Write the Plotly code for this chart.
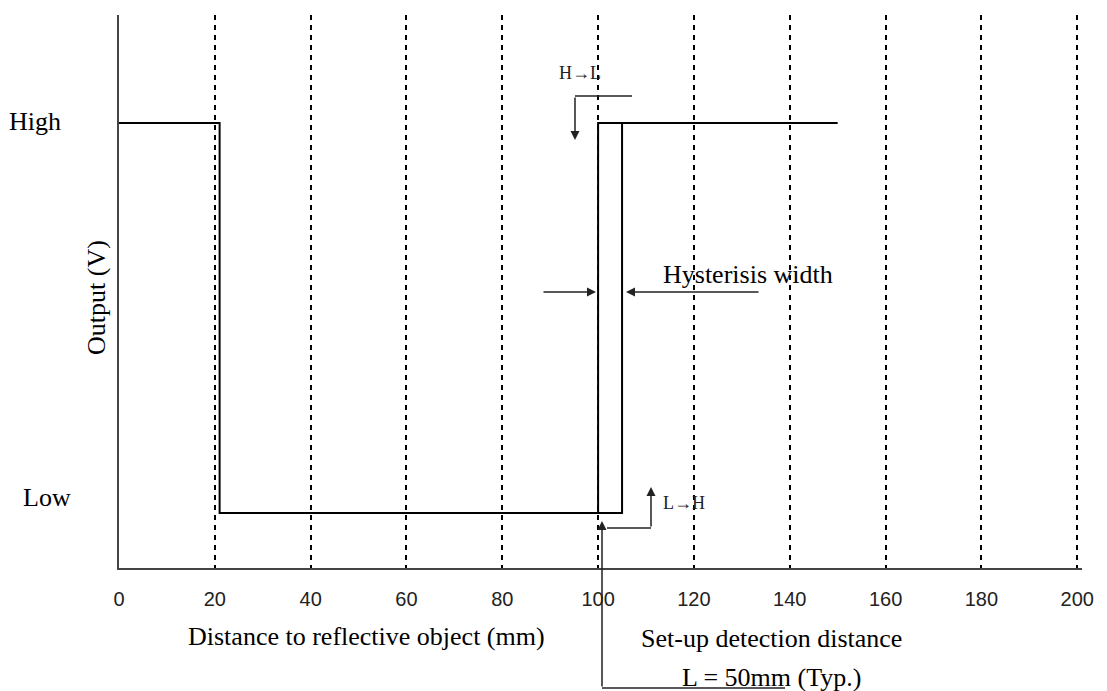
import plotly.graph_objects as go

# ---- data ----
distance_ticks = [0, 20, 40, 60, 80, 100, 120, 140, 160, 180, 200]
tick_labels = ["0", "20", "40", "60", "80", "100", "120", "140", "160", "180", "200"]
level_value = {"Low": 0.0, "High": 1.0}

# output while the object distance changes (H->L branch and L->H branch)
curve_a_x = [0, 21, 21, 105, 105]
curve_a_state = ["High", "High", "Low", "Low", "High"]
curve_b_x = [100, 100, 150]
curve_b_state = ["Low", "High", "High"]

# ---- geometry helpers (layout only); page coords, body margin of 8px ----
OFF = 8
W, H = 1107 - OFF, 691 - OFF
PLOT_L, PLOT_R, PLOT_T, PLOT_B = 119, 1082, 15, 568   # page pixel coords of plot area
L_M, R_M = PLOT_L - OFF, (OFF + W) - PLOT_R
T_M, B_M = PLOT_T - OFF, (OFF + H) - PLOT_B
PW, PH = PLOT_R - PLOT_L, PLOT_B - PLOT_T
X_MAX = 201.0
Y_MIN, Y_MAX = -0.141, 1.277


def px(xp):
    return (xp - PLOT_L) / PW


def py(yp):
    return (PLOT_B - yp) / PH


def dx(xp):
    return px(xp) * X_MAX


def dy(yp):
    return Y_MIN + py(yp) * (Y_MAX - Y_MIN)


SERIF = "Liberation Serif, Times New Roman, serif"

fig = go.Figure()
line_style = dict(color="black", width=2)
fig.add_trace(go.Scatter(x=curve_a_x, y=[level_value[s] for s in curve_a_state],
                         mode="lines", line=line_style, showlegend=False, hoverinfo="skip"))
fig.add_trace(go.Scatter(x=curve_b_x, y=[level_value[s] for s in curve_b_state],
                         mode="lines", line=line_style, showlegend=False, hoverinfo="skip"))


def label(xp, yp, text, size=26, color="black", angle=0):
    return dict(x=px(xp), y=py(yp), xref="paper", yref="paper", text=text, showarrow=False,
                xanchor="center", yanchor="middle", textangle=angle,
                font=dict(family=SERIF, size=size, color=color))


ann = [
    label(35, 121, "High"),
    label(47, 497, "Low"),
    label(97, 298, "Output (V)", angle=-90),
    label(366, 636, "Distance to reflective object (mm)"),
    label(771, 638, "Set-up detection distance"),
    label(771, 677, "L = 50mm (Typ.)"),
    label(748, 274, "Hysterisis width"),
    label(580, 73, "H→L", size=18, color="#222"),
    label(684, 503, "L→H", size=18, color="#222"),
]

arrow_style = dict(showarrow=True, arrowhead=2, arrowsize=1.2, arrowwidth=1.5,
                   arrowcolor="#222", text="", xref="x", yref="y")
# hysteresis width arrows
ann.append(dict(x=dx(596), y=dy(292), ax=-54, ay=0, **arrow_style))
ann.append(dict(x=dx(626), y=dy(292), ax=134, ay=0, **arrow_style))
# H->L arrow (down)
ann.append(dict(x=dx(575), y=dy(140), ax=0, ay=-44, **arrow_style))
# L->H arrow (up)
ann.append(dict(x=dx(651), y=dy(487), ax=0, ay=41, **arrow_style))
# set-up distance arrow (up from below)
ann.append(dict(x=dx(602), y=dy(521), ax=0, ay=167, **arrow_style))

shapes = [
    dict(type="line", xref="paper", yref="paper", x0=px(575), x1=px(632), y0=py(96), y1=py(96),
         line=dict(color="#222", width=1.5)),
    dict(type="line", xref="paper", yref="paper", x0=px(607), x1=px(651), y0=py(528), y1=py(528),
         line=dict(color="#222", width=1.5)),
    dict(type="line", xref="paper", yref="paper", x0=px(602), x1=px(785), y0=py(688), y1=py(688),
         line=dict(color="#222", width=1.5)),
]

fig.update_layout(
    width=W, height=H,
    margin=dict(l=L_M, r=R_M, t=T_M, b=B_M),
    paper_bgcolor="white", plot_bgcolor="white",
    showlegend=False,
    annotations=ann, shapes=shapes,
    xaxis=dict(range=[0, X_MAX], tickvals=distance_ticks, ticktext=tick_labels,
               showline=True, linecolor="#444", linewidth=2,
               showgrid=True, gridcolor="black", gridwidth=2, griddash="5px,5px",
               zeroline=False, ticks="outside", ticklen=12, tickcolor="rgba(0,0,0,0)",
               ticklabeloverflow="allow",
               tickfont=dict(family="Liberation Sans, Arial, sans-serif", size=20, color="#222")),
    yaxis=dict(range=[Y_MIN, Y_MAX], showline=True, linecolor="#444", linewidth=2,
               showgrid=False, zeroline=False, showticklabels=False, ticks=""),
)

fig.write_html("out.html")
